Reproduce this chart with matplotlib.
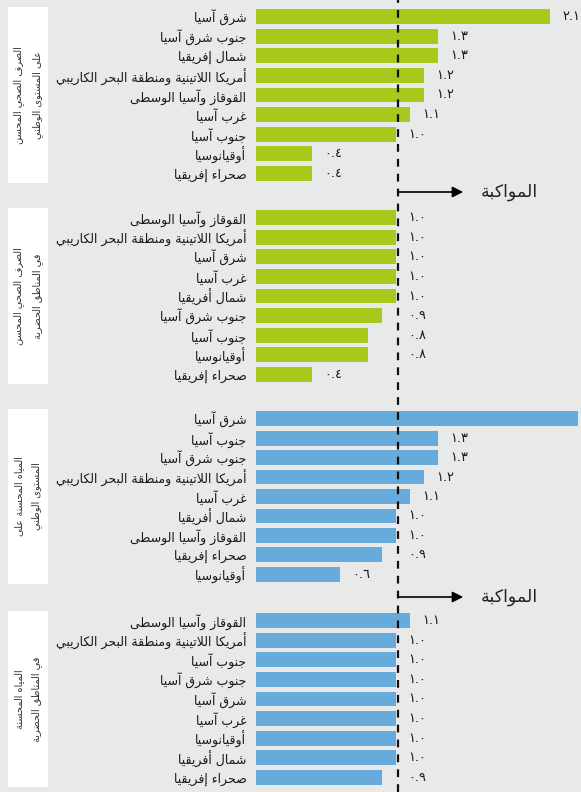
import numpy as np
import matplotlib.pyplot as plt

# ---- data -------------------------------------------------------------
san_nat_regions = ['شرق آسيا', 'جنوب شرق آسيا', 'شمال إفريقيا',
                   'أمريكا اللاتينية ومنطقة البحر الكاريبي', 'القوقاز وآسيا الوسطى',
                   'غرب آسيا', 'جنوب آسيا', 'أوقيانوسيا', 'صحراء إفريقيا']
san_nat_values = [2.1, 1.3, 1.3, 1.2, 1.2, 1.1, 1.0, 0.4, 0.4]

san_urb_regions = ['القوقاز وآسيا الوسطى', 'أمريكا اللاتينية ومنطقة البحر الكاريبي',
                   'شرق آسيا', 'غرب آسيا', 'شمال أفريقيا', 'جنوب شرق آسيا',
                   'جنوب آسيا', 'أوقيانوسيا', 'صحراء إفريقيا']
san_urb_values = [1.0, 1.0, 1.0, 1.0, 1.0, 0.9, 0.8, 0.8, 0.4]

wat_nat_regions = ['شرق آسيا', 'جنوب آسيا', 'جنوب شرق آسيا',
                   'أمريكا اللاتينية ومنطقة البحر الكاريبي', 'غرب آسيا',
                   'شمال أفريقيا', 'القوقاز وآسيا الوسطى', 'صحراء إفريقيا', 'أوقيانوسيا']
wat_nat_values = [2.3, 1.3, 1.3, 1.2, 1.1, 1.0, 1.0, 0.9, 0.6]

wat_urb_regions = ['القوقاز وآسيا الوسطى', 'أمريكا اللاتينية ومنطقة البحر الكاريبي',
                   'جنوب آسيا', 'جنوب شرق آسيا', 'شرق آسيا', 'غرب آسيا',
                   'أوقيانوسيا', 'شمال أفريقيا', 'صحراء إفريقيا']
wat_urb_values = [1.1, 1.0, 1.0, 1.0, 1.0, 1.0, 1.0, 1.0, 0.9]

panel_titles = ['الصرف الصحي المحسن\nعلى المستوى الوطني',
                'الصرف الصحي المحسن\nفي المناطق الحضرية',
                'المياه المحسنة على\nالمستوى الوطني',
                'المياه المحسنة\nفي المناطق الحضرية']
pace_label = 'المواكبة'
parity = 1.0

# ---- minimal arabic shaping (no reshaper lib available) ---------------
letters = [('ء', 1), ('آ', 2), ('أ', 2), ('ؤ', 2), ('إ', 2), ('ئ', 4), ('ا', 2), ('ب', 4),
           ('ة', 2), ('ت', 4), ('ث', 4), ('ج', 4), ('ح', 4), ('خ', 4), ('د', 2), ('ذ', 2),
           ('ر', 2), ('ز', 2), ('س', 4), ('ش', 4), ('ص', 4), ('ض', 4), ('ط', 4), ('ظ', 4),
           ('ع', 4), ('غ', 4), ('ف', 4), ('ق', 4), ('ك', 4), ('ل', 4), ('م', 4), ('ن', 4),
           ('ه', 4), ('و', 2), ('ى', 2), ('ي', 4)]
forms = {}
code = 0xFE80
for ch, n in letters:
    forms[ch] = (code, n)
    code += n
lamalef = {'آ': 0xFEF5, 'أ': 0xFEF7, 'إ': 0xFEF9, 'ا': 0xFEFB}


def shape_line(s):
    toks = []
    i = 0
    while i < len(s):
        if s[i] == 'ل' and i + 1 < len(s) and s[i + 1] in lamalef:
            toks.append(('LA', s[i + 1]))
            i += 2
        else:
            toks.append(s[i])
            i += 1

    def is_dual(t):
        return isinstance(t, str) and t in forms and forms[t][1] == 4

    def joins_prev(t):
        return isinstance(t, tuple) or (t in forms and forms[t][1] > 1)

    out = []
    for k, t in enumerate(toks):
        prev = toks[k - 1] if k > 0 else None
        nxt = toks[k + 1] if k + 1 < len(toks) else None
        jp = prev is not None and is_dual(prev)
        if isinstance(t, tuple):
            out.append(chr(lamalef[t[1]] + (1 if jp else 0)))
        elif t in forms:
            base, n = forms[t]
            jp = jp and n > 1
            jn = n == 4 and nxt is not None and joins_prev(nxt)
            idx = 3 if (jp and jn) else 1 if jp else 2 if jn else 0
            out.append(chr(base + idx))
        else:
            out.append(t)
    return ''.join(reversed(out))


def ar(s):
    return '\n'.join(shape_line(line) for line in s.split('\n'))


def ar_num(v):
    return f'{v:.1f}'.translate(str.maketrans('0123456789', '٠١٢٣٤٥٦٧٨٩'))


# ---- layout -----------------------------------------------------------
plt.rcParams['font.family'] = ['DejaVu Sans']
W, H = 581, 792
bg = '#e8e9e9'
green = '#a8c81b'
blue = '#67abdc'
x0_px, px_per_unit = 256, 140
xmax = (W - x0_px) / px_per_unit

fig = plt.figure(figsize=(W / 100, H / 100), dpi=100, facecolor=bg)

panels = [(san_nat_regions, san_nat_values, green, (7, 183)),
          (san_urb_regions, san_urb_values, green, (208, 384)),
          (wat_nat_regions, wat_nat_values, blue, (409, 584)),
          (wat_urb_regions, wat_urb_values, blue, (611, 787))]

for (regions, values, color, (top, bot)), title in zip(panels, panel_titles):
    ax = fig.add_axes([x0_px / W, 1 - bot / H, 1 - x0_px / W, (bot - top) / H])
    ax.set_facecolor('none')
    y = np.arange(len(values))
    ax.barh(y, values, height=0.76, color=color)
    ax.set_xlim(0, xmax)
    ax.set_ylim(len(values) - 0.5, -0.5)
    ax.set_yticks(y)
    ax.set_yticklabels([ar(r) for r in regions], fontsize=9.0, color='#1a1a1a')
    ax.tick_params(axis='y', length=0, pad=7)
    ax.set_xticks([])
    for s in ax.spines.values():
        s.set_visible(False)
    for yi, v in zip(y, values):
        lx = parity if 0.7 < v < parity else v
        if lx + 0.2 < xmax:
            ax.annotate(ar_num(v), (lx, yi), xytext=(9, 0), textcoords='offset points',
                        ha='left', va='center', fontsize=9.3, color='#1a1a1a')

    # white side box with the indicator name
    box = fig.add_axes([8 / W, 1 - bot / H, 40 / W, (bot - top) / H])
    box.set_facecolor('white')
    box.set_xticks([])
    box.set_yticks([])
    for s in box.spines.values():
        s.set_visible(False)
    box.text(0.5, 0.5, ar(title), rotation=90, ha='center', va='center',
             fontsize=7, color='#333333', linespacing=1.9, transform=box.transAxes)

# overlay: parity line and "keeping pace" arrows
ov = fig.add_axes([0, 0, 1, 1])
ov.set_facecolor('none')
ov.axis('off')
ov.set_xlim(-x0_px / px_per_unit, xmax)
ov.set_ylim(H, 0)
ov.axvline(parity + 0.015, color='#111111', lw=1.6, ls=(0, (3.5, 3.2)))
for ya in (192, 597):
    ov.annotate('', xy=(1.48, ya), xytext=(parity + 0.015, ya),
                arrowprops=dict(arrowstyle='-|>', color='black', lw=1.2,
                                mutation_scale=16, shrinkA=0, shrinkB=0))
    ov.text(1.81, ya, ar(pace_label), ha='center', va='center', fontsize=12.5, color='#222222')

fig.savefig('out.png', dpi=100, facecolor=bg)
